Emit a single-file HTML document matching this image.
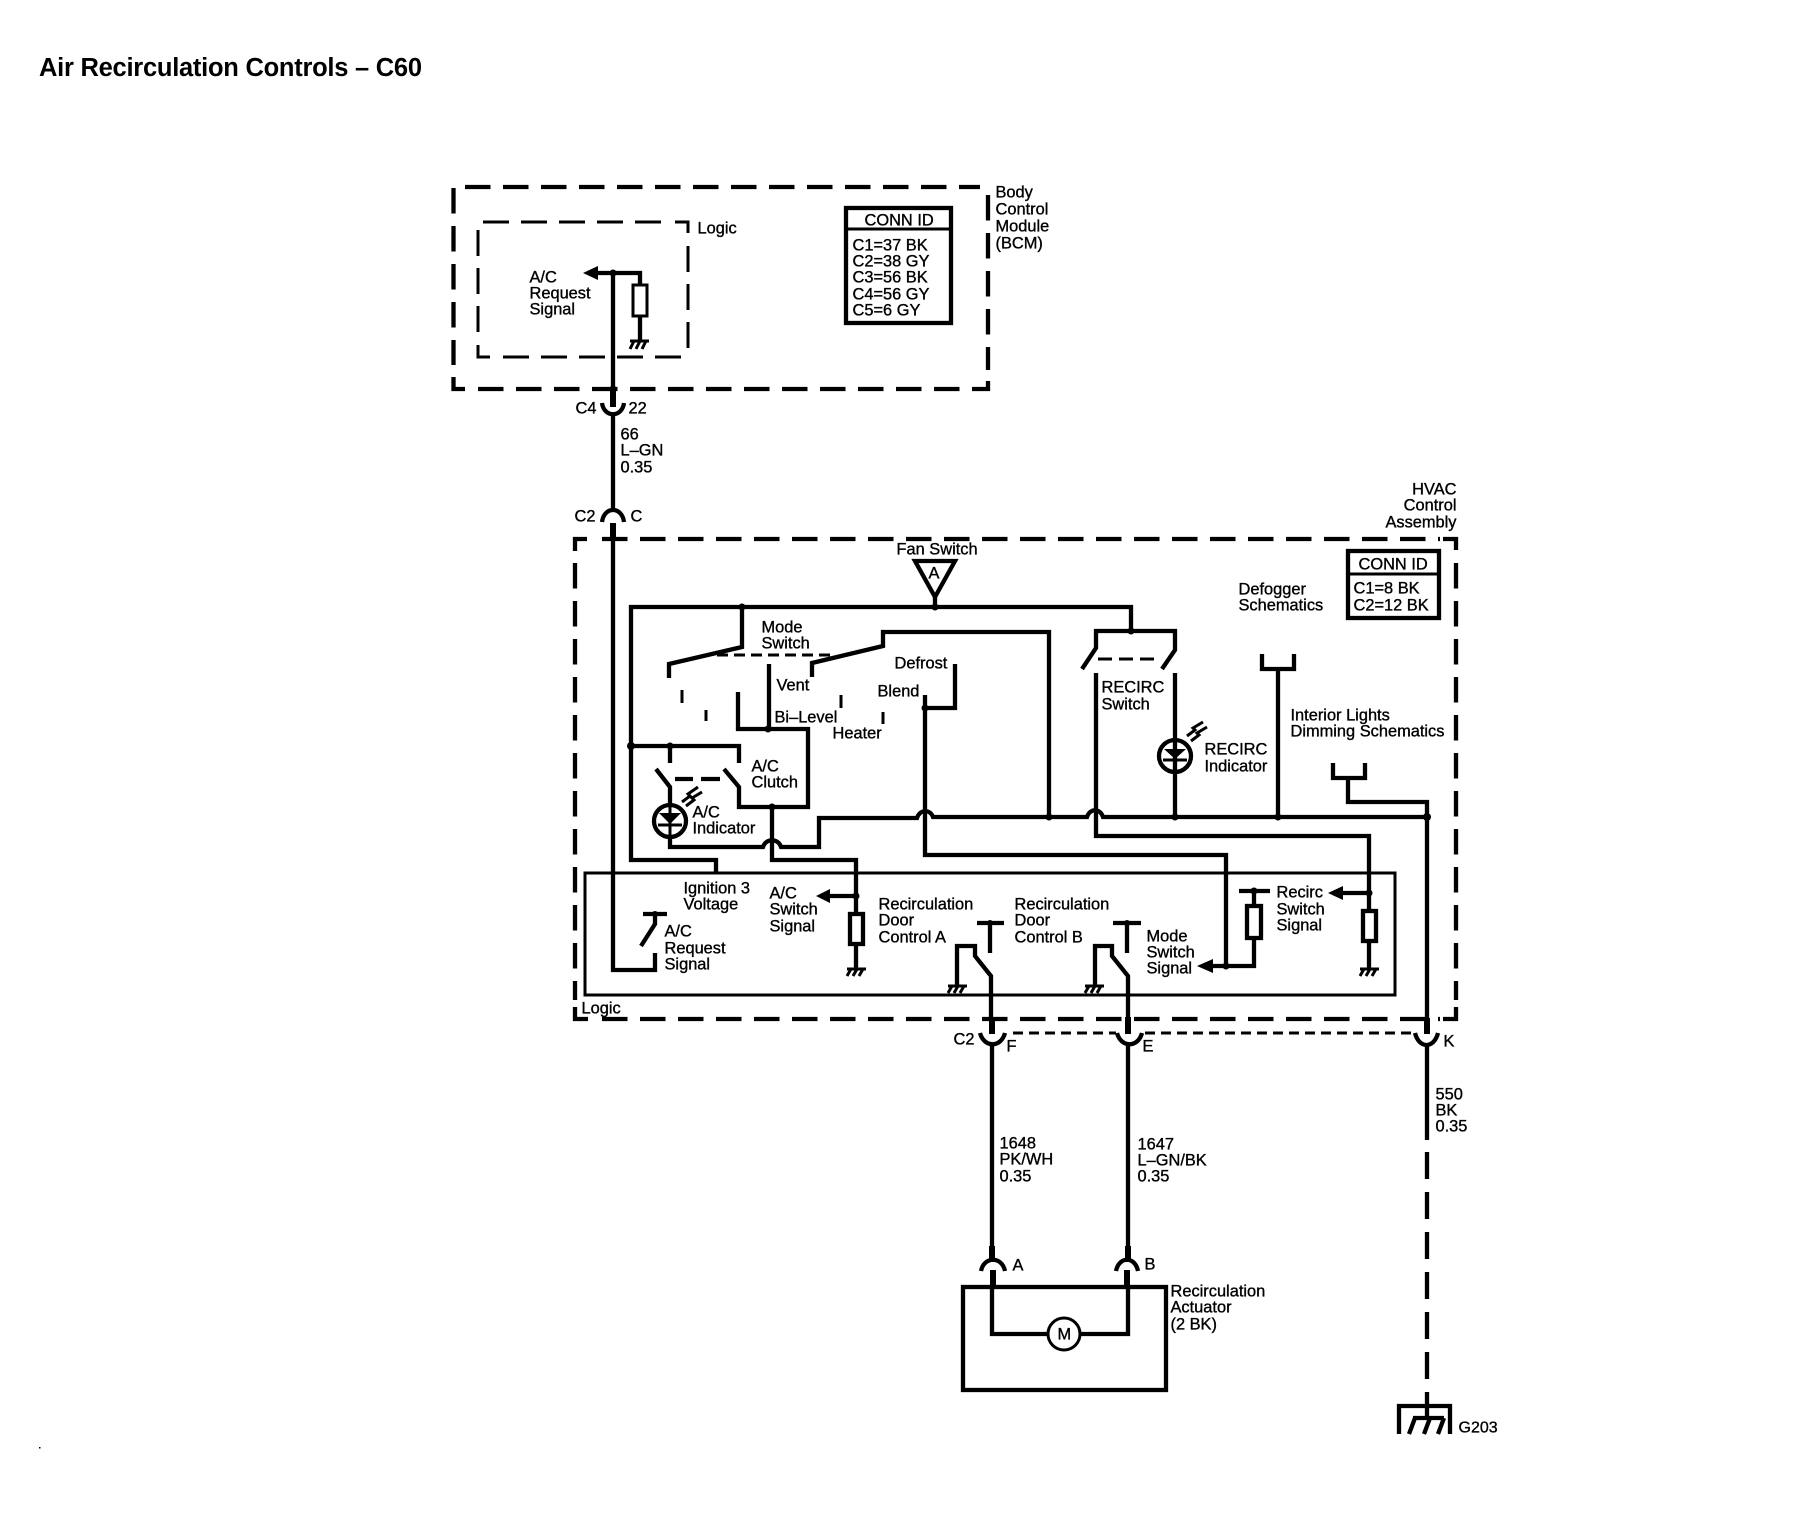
<!DOCTYPE html>
<html><head><meta charset="utf-8"><style>
html,body{margin:0;padding:0;background:#fff}
svg{display:block}
text{font-family:"Liberation Sans",sans-serif;font-size:16.4px;fill:#000;stroke:#000;stroke-width:.35;transform:translate(-.5px,-.5px)}
.t{font-weight:bold;font-size:25.5px;stroke:none;transform:none}
.w{fill:none;stroke:#000;stroke-width:4.3}
.n{fill:none;stroke:#000;stroke-width:3}
.h{fill:none;stroke:#000;stroke-width:6}
.f{fill:#000;stroke:none}
</style></head><body>
<svg xmlns="http://www.w3.org/2000/svg" width="1806" height="1520" viewBox="0 0 1806 1520">
<rect width="1806" height="1520" fill="#fff"/>
<text class="t" x="39" y="76" textLength="383">Air Recirculation Controls – C60</text>
<rect class="f" x="39" y="1447" width="1.5" height="1.5"/>

<!-- BCM dashed -->
<g class="w">
<path d="M465 187H980" stroke-dasharray="25.5 12.5"/>
<path d="M453.5 188V365" stroke-dasharray="25.5 12.5"/>
<path d="M453.5 377V389H465"/>
<path d="M478 389H976" stroke-dasharray="25.5 12.5"/>
<path d="M976 389H988V381"/>
<path d="M988 195V370" stroke-dasharray="25.5 12.5"/>
</g>
<!-- inner logic dashed -->
<g class="n">
<path d="M483 222H670" stroke-dasharray="26 12"/>
<path d="M675 222H688V233"/>
<path d="M688 246V358" stroke-dasharray="26 12"/>
<path d="M478 230V335" stroke-dasharray="26 12"/>
<path d="M478 345V357H490"/>
<path d="M503 357H685" stroke-dasharray="26 12"/>
</g>
<!-- BCM contents -->
<path class="w" d="M598 273H640V285M640 316V340M613 273V389"/>
<rect class="n" x="633" y="285" width="14" height="31"/>
<path class="f" d="M583 273L598 266V280Z"/>
<circle class="f" cx="613" cy="273" r="3.5"/>
<circle class="f" cx="613" cy="389" r="3.5"/>
<path class="n" d="M630 341H649M634 341L630 349M640 341L636 349M646 341L642 349"/>
<text x="530" y="283">A/C</text><text x="530" y="299">Request</text><text x="530" y="315">Signal</text>
<text x="698" y="234">Logic</text>
<rect class="w" x="846" y="208" width="105" height="115"/>
<path class="n" d="M846 229H951"/>
<text x="865" y="226">CONN ID</text>
<text x="853" y="251">C1=37 BK</text><text x="853" y="267">C2=38 GY</text><text x="853" y="283">C3=56 BK</text><text x="853" y="300">C4=56 GY</text><text x="853" y="316">C5=6 GY</text>
<text x="996" y="198">Body</text><text x="996" y="215">Control</text><text x="996" y="232">Module</text><text x="996" y="249">(BCM)</text>

<!-- C4 / C2 -->
<path class="h" d="M613 389V407"/>
<path class="w" d="M602 403C604 418 622 418 624 403M613 412V510"/>
<path class="w" d="M602 522C604 506 622 506 624 522"/>
<path class="h" d="M613 523V541"/>
<text x="576" y="414">C4</text><text x="629" y="414">22</text>
<text x="621" y="440">66</text><text x="621" y="456">L–GN</text><text x="621" y="473">0.35</text>
<text x="575" y="522">C2</text><text x="631" y="522">C</text>

<!-- HVAC dashed -->
<g class="w">
<path d="M587 539H575V551"/>
<path d="M602 539H1440" stroke-dasharray="25.5 12.5"/>
<path d="M1443 539H1456V550"/>
<path d="M1456 563V1000" stroke-dasharray="25.5 12.5"/>
<path d="M1456 1007V1019H1443"/>
<path d="M602 1019H1440" stroke-dasharray="25.5 12.5"/>
<path d="M588 1019H575V1007"/>
<path d="M575 563V1000" stroke-dasharray="25.5 12.5"/>
</g>
<text x="1457" y="495" text-anchor="end">HVAC</text><text x="1457" y="511" text-anchor="end">Control</text><text x="1457" y="528" text-anchor="end">Assembly</text>

<!-- wire inside to A/C request -->
<path class="w" d="M613 523V970H655V953"/>
<path class="w" d="M643 914H667M655 914V924L641 946"/>
<circle class="f" cx="655" cy="914" r="3"/>

<!-- Logic box -->
<rect class="n" x="585" y="873" width="810" height="122"/>
<text x="582" y="1014">Logic</text>

<!-- fan switch -->
<text x="897" y="555">Fan Switch</text>
<path class="w" d="M915 561H955L935 597Z"/>
<text x="929" y="579">A</text>
<path class="w" d="M935 597V607"/>
<path class="w" d="M716 873V860H631V607H1131V631"/>
<path class="w" d="M1082 669L1096 648V631H1175V650L1162 669"/>
<path class="n" d="M1098 659H1160" stroke-dasharray="14 7"/>
<circle class="f" cx="935" cy="607" r="3.5"/><circle class="f" cx="742" cy="607" r="3.5"/><circle class="f" cx="1131" cy="631" r="3.5"/>

<!-- mode switch -->
<path class="w" d="M742 607V647L669 664V678"/>
<path class="n" d="M717 655H835" stroke-dasharray="11 6"/>
<path class="w" d="M812 677V663L883 646V632H1049V817"/>
<path class="n" d="M682 690V703M706 710V721M841 695V708M883 712V724" stroke-width="4"/>
<path class="w" d="M738 692V729H808V807H739V787L724 769"/>
<path class="w" d="M769 664V729"/>
<circle class="f" cx="768" cy="729" r="3.5"/>
<path class="w" d="M925 695V855H1226V966"/>
<path class="w" d="M925 708H955V664"/>
<circle class="f" cx="925" cy="708" r="3.5"/>

<!-- A/C clutch -->
<path class="w" d="M631 746H739V763M670 746V763"/>
<circle class="f" cx="631" cy="746" r="4"/><circle class="f" cx="670" cy="746" r="3.5"/>
<path class="w" d="M656 769L670 787V805"/>
<path class="w" d="M675 779H693M701 779H720"/>
<circle class="w" cx="670" cy="821" r="16"/>
<path class="f" d="M659 813H681L670 824Z"/>
<path class="n" d="M658 825H682M670 805V838"/>
<path class="n" d="M682 802L690 796L688 794L698 787M686 806L694 800L692 798L702 792" stroke-width="1.8"/>
<!-- main bus -->
<path class="w" d="M670 837V847H763C766 838 778 838 781 847H819V818H917C920 809 930 809 933 817H1087C1090 808 1100 808 1103 817H1427"/>
<circle class="f" cx="1049" cy="817" r="3.5"/><circle class="f" cx="1175" cy="817" r="3.5"/><circle class="f" cx="1278" cy="817" r="3.5"/><circle class="f" cx="1427" cy="817" r="4"/>
<!-- A/C switch signal -->
<circle class="f" cx="772" cy="807" r="3.5"/>
<path class="w" d="M772 807V860H856V914M856 944V968M829 896H856"/>
<rect class="w" x="850" y="914" width="13" height="30"/>
<path class="f" d="M816 896L830 889V903Z"/>
<circle class="f" cx="856" cy="896" r="3.5"/>
<path class="n" d="M847 969H866M851 969L847 976M857 969L853 976M863 969L859 976"/>

<!-- RECIRC -->
<path class="w" d="M1096 673V836H1369V911M1369 941V968M1343 893H1369"/>
<rect class="w" x="1363" y="911" width="13" height="30"/>
<path class="f" d="M1328 893L1343 886V900Z"/>
<circle class="f" cx="1369" cy="893" r="3.5"/>
<path class="n" d="M1360 969H1379M1364 969L1360 976M1370 969L1366 976M1376 969L1372 976"/>
<path class="w" d="M1175 673V817"/>
<circle class="w" cx="1175" cy="756" r="16"/>
<path class="f" d="M1164 749H1186L1175 759Z"/>
<path class="n" d="M1163 760H1187"/>
<path class="n" d="M1187 736L1195 730L1193 728L1203 722M1191 741L1199 735L1197 733L1207 727" stroke-width="1.8"/>
<path class="w" d="M1278 669V817M1262 654V669H1294V654"/>
<path class="w" d="M1333 763V778H1365V763M1348 778V802H1427V817"/>

<!-- Mode switch signal -->
<path class="w" d="M1213 966H1254V938M1254 906V891M1239 891H1270"/>
<rect class="w" x="1247" y="906" width="14" height="32"/>
<path class="f" d="M1197 966L1213 959V973Z"/>
<circle class="f" cx="1226" cy="966" r="3.5"/><circle class="f" cx="1254" cy="891" r="3.5"/>

<!-- Door controls -->
<path class="w" d="M977 923H1004M990 923V953M957 985V946H975V956L991 976V1019"/>
<circle class="f" cx="990" cy="923" r="3"/>
<path class="n" d="M948 986H967M952 986L948 993M958 986L954 993M964 986L960 993"/>
<path class="w" d="M1113 923H1141M1127 923V953M1095 985V946H1112V956L1128 976V1019"/>
<circle class="f" cx="1127" cy="923" r="3"/>
<path class="n" d="M1085 986H1104M1089 986L1085 993M1095 986L1091 993M1101 986L1097 993"/>
<path class="h" d="M992 1017V1034M1128 1017V1034"/>
<path class="w" d="M1427 817V1019"/>
<path class="h" d="M1427 1018V1034" stroke-width="7"/>

<!-- C2 bottom connector row -->
<path class="w" d="M980 1033C984 1048 1001 1048 1005 1033M1117 1033C1121 1048 1138 1048 1142 1033M1415 1033C1419 1049 1434 1049 1438 1033"/>
<path class="n" d="M1013 1033H1116M1145 1033H1413" stroke-width="3.5" stroke-dasharray="10 6"/>
<path class="w" d="M992 1044V1248M1128 1044V1248"/>
<path class="h" d="M992 1246V1262M1128 1246V1262"/>
<path class="w" d="M981 1271C984 1256 1002 1256 1005 1271M1116 1271C1119 1256 1135 1256 1138 1271"/>
<path class="h" d="M993 1270V1286M1127 1270V1286"/>
<text x="954" y="1045">C2</text><text x="1007" y="1052">F</text><text x="1143" y="1052">E</text><text x="1444" y="1047">K</text>
<text x="1000" y="1149">1648</text><text x="1000" y="1165">PK/WH</text><text x="1000" y="1182">0.35</text>
<text x="1138" y="1150">1647</text><text x="1138" y="1166">L–GN/BK</text><text x="1138" y="1182">0.35</text>
<text x="1436" y="1100">550</text><text x="1436" y="1116">BK</text><text x="1436" y="1132">0.35</text>
<text x="1013" y="1271">A</text><text x="1145" y="1270">B</text>

<!-- Actuator -->
<rect class="w" x="963" y="1287" width="203" height="103"/>
<path class="w" d="M992 1286V1334H1048M1080 1334H1128V1286"/>
<circle class="n" cx="1064" cy="1334" r="16" stroke-width="3.5"/>
<text x="1058" y="1340" font-size="15">M</text>
<text x="1171" y="1297">Recirculation</text><text x="1171" y="1313">Actuator</text><text x="1171" y="1330">(2 BK)</text>

<!-- K wire -->
<path class="w" d="M1427 1044V1140" stroke-width="5"/>
<path class="w" d="M1427 1152V1393" stroke-width="5.5" stroke-dasharray="27 13"/>
<path class="w" d="M1427 1393V1420" stroke-width="5"/>
<path class="w" d="M1399 1434V1406H1450V1434"/>
<path class="w" d="M1413 1418H1444M1415 1418L1409 1434M1430 1418L1424 1434M1444 1418L1438 1434"/>
<text x="1459" y="1433" style="font-size:16px">G203</text>

<!-- labels -->
<text x="762" y="633">Mode</text><text x="762" y="649">Switch</text>
<text x="777" y="691">Vent</text><text x="775" y="723">Bi–Level</text><text x="833" y="739">Heater</text>
<text x="895" y="669">Defrost</text><text x="878" y="697">Blend</text>
<text x="752" y="772">A/C</text><text x="752" y="788">Clutch</text>
<text x="693" y="818">A/C</text><text x="693" y="834">Indicator</text>
<text x="684" y="894">Ignition 3</text><text x="684" y="910">Voltage</text>
<text x="770" y="899">A/C</text><text x="770" y="915">Switch</text><text x="770" y="932">Signal</text>
<text x="665" y="937">A/C</text><text x="665" y="954">Request</text><text x="665" y="970">Signal</text>
<text x="879" y="910">Recirculation</text><text x="879" y="926">Door</text><text x="879" y="943">Control A</text>
<text x="1015" y="910">Recirculation</text><text x="1015" y="926">Door</text><text x="1015" y="943">Control B</text>
<text x="1147" y="942">Mode</text><text x="1147" y="958">Switch</text><text x="1147" y="974">Signal</text>
<text x="1277" y="898">Recirc</text><text x="1277" y="915">Switch</text><text x="1277" y="931">Signal</text>
<text x="1102" y="693">RECIRC</text><text x="1102" y="710">Switch</text>
<text x="1205" y="755">RECIRC</text><text x="1205" y="772">Indicator</text>
<text x="1239" y="595">Defogger</text><text x="1239" y="611">Schematics</text>
<text x="1291" y="721">Interior Lights</text><text x="1291" y="737">Dimming Schematics</text>
<rect class="w" x="1348" y="551" width="91" height="67"/>
<path class="n" d="M1348 574H1439"/>
<text x="1359" y="570">CONN ID</text>
<text x="1354" y="594">C1=8 BK</text><text x="1354" y="611">C2=12 BK</text>
</svg>
</body></html>
